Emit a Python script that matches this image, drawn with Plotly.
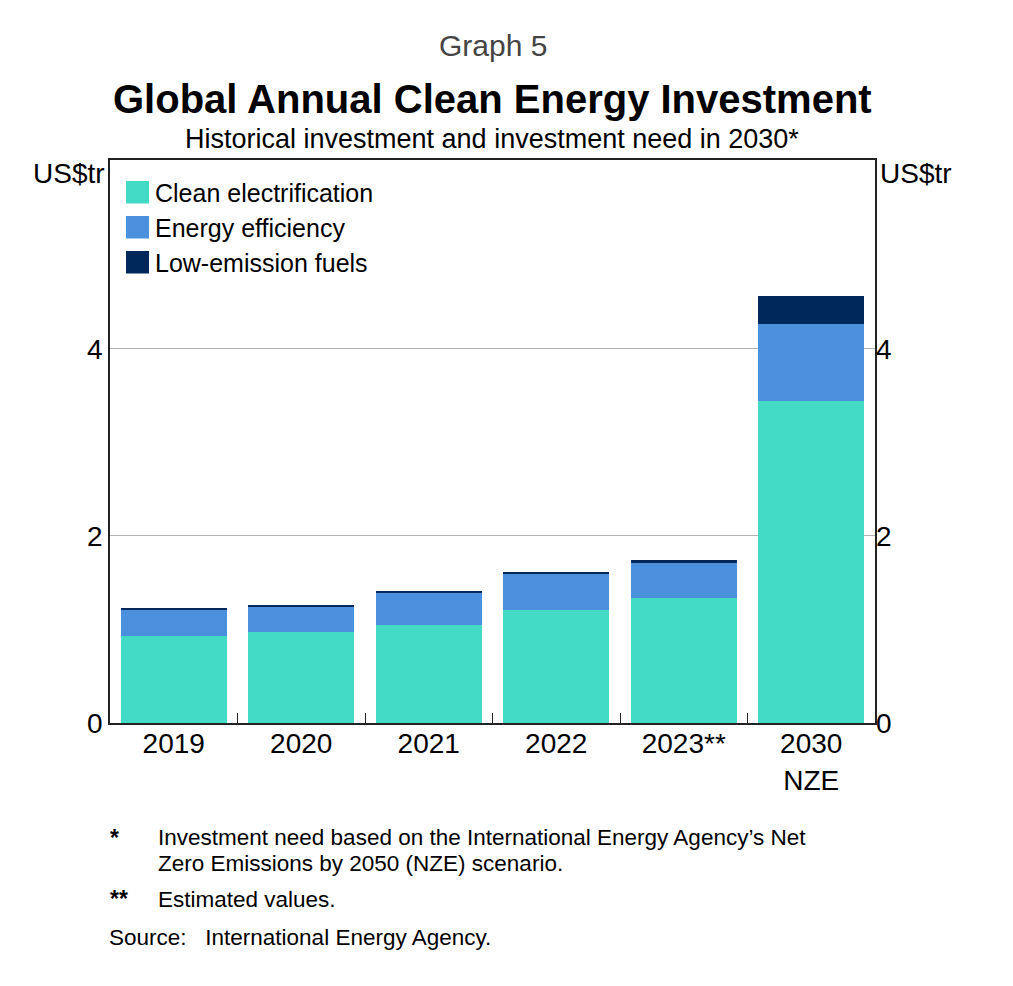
import plotly.graph_objects as go

categories = ["2019", "2020", "2021", "2022", "2023**", "2030<br>NZE"]
series_names = ["Clean electrification", "Energy efficiency", "Low-emission fuels"]
clean_electrification = [0.925, 0.968, 1.043, 1.208, 1.339, 3.444]
energy_efficiency = [0.29, 0.28, 0.35, 0.39, 0.38, 0.82]
low_emission_fuels = [0.013, 0.012, 0.012, 0.011, 0.02, 0.30]
y_ticks = [0, 2, 4]
colors = ["#43DBC6", "#4A90DC", "#00285A"]

FONT = "Liberation Sans, Arial, sans-serif"
OFF = 8  # page body margin

# plot area in screen pixels
PL, PR, PT, PB = 110, 875, 160, 723
W, H = 1013, 986

fig = go.Figure()
for name, vals, col in zip(series_names,
                           [clean_electrification, energy_efficiency, low_emission_fuels],
                           colors):
    fig.add_bar(x=categories, y=vals, name=name,
                marker=dict(color=col, line=dict(width=0)), showlegend=False)
fig.add_scatter(x=categories, y=[None] * len(categories), yaxis="y2",
                showlegend=False, hoverinfo="skip")

fig.update_layout(
    width=W, height=H,
    margin=dict(l=PL - OFF, r=W - PR + OFF, t=PT - OFF, b=H - PB + OFF, pad=0),
    paper_bgcolor="white", plot_bgcolor="white",
    barmode="stack", bargap=0.17,
    font=dict(family=FONT, color="black", size=22),
    showlegend=False,
    xaxis=dict(type="category", showline=True, linecolor="#222", linewidth=1.5,
               mirror=True, ticks="inside", tickson="boundaries", ticklen=10,
               tickwidth=1.2, tickcolor="#222", tickfont=dict(size=28), showgrid=False,
               ticklabelstandoff=-5),
    yaxis=dict(range=[0, 6.02], tickvals=y_ticks, showline=True, linecolor="#222",
               linewidth=1.5, mirror=True, showgrid=True, gridcolor="#b5b5b5",
               gridwidth=1, ticks="", tickfont=dict(size=28), zeroline=False),
    yaxis2=dict(range=[0, 6.02], tickvals=y_ticks, overlaying="y", side="right",
                showline=False, showgrid=False, ticks="", tickfont=dict(size=28),
                zeroline=False),
)

def px_x(xp):
    return (xp - PL) / (PR - PL)

def px_y(yp):
    return (PB - yp) / (PB - PT)

def px_annot(text, xp, yp, size, xanchor="left", color="black"):
    fig.add_annotation(text=text, xref="paper", yref="paper",
                       x=px_x(xp), y=px_y(yp),
                       xanchor=xanchor, yanchor="middle", showarrow=False,
                       align="left", font=dict(family=FONT, size=size, color=color))

px_annot("Graph 5", 493, 45, 30, xanchor="center", color="#444")
px_annot("<b>Global Annual Clean Energy Investment</b>", 492, 99, 40, xanchor="center")
px_annot("Historical investment and investment need in 2030*", 492, 139, 27, xanchor="center")

px_annot("US$tr", 107, 173, 28, xanchor="right")
px_annot("US$tr", 878, 173, 28, xanchor="left")

# legend drawn manually for large square swatches
leg_top = [181, 216, 251]
for name, col, yt in zip(series_names, colors, leg_top):
    fig.add_shape(type="rect", xref="paper", yref="paper",
                  x0=px_x(126), x1=px_x(149), y0=px_y(yt), y1=px_y(yt + 22.5),
                  fillcolor=col, line=dict(width=0))
    px_annot(name, 153, yt + 12, 25)

px_annot("<b>*</b>", 108, 838, 23)
px_annot("Investment need based on the International Energy Agency’s Net", 156, 837, 22.5)
px_annot("Zero Emissions by 2050 (NZE) scenario.", 156, 863, 22.5)
px_annot("<b>**</b>", 108, 899, 23)
px_annot("Estimated values.", 156, 899, 22.5)
px_annot("Source:   International Energy Agency.", 107, 937, 22.5)

fig.write_html("out.html")
